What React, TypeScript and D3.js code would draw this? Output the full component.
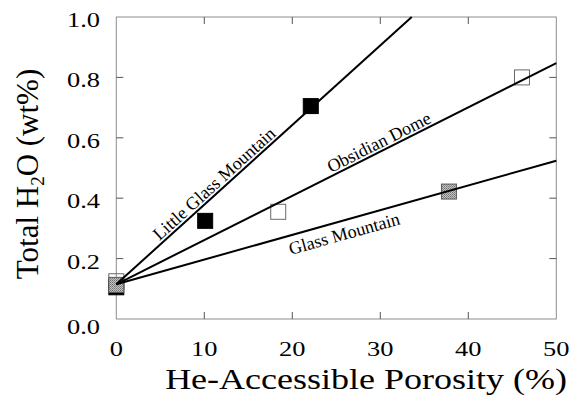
import * as d3 from "d3";

// He-accessible porosity (%) vs total H2O (wt%)
const lgmPorosity = [0, 10.1, 22.1];
const lgmWater = [0.105, 0.325, 0.705];
const odPorosity = [0, 18.4, 46.1];
const odWater = [0.125, 0.355, 0.8];
const gmPorosity = [0, 37.8];
const gmWater = [0.113, 0.422];

// fitted lines: [x0, y0, x1, y1]
const lgmFit = [0, 0.115, 33.57, 1.0];
const odFit = [0, 0.115, 50, 0.847];
const gmFit = [0, 0.115, 50, 0.524];

const xTicks = [0, 10, 20, 30, 40, 50];
const yTicks = [0, 0.2, 0.4, 0.6, 0.8, 1.0];

const W = 579, H = 404;
const margin = { top: 17, right: 22.7, bottom: 85, left: 116.3 };
const FONT = "'Liberation Serif', 'Times New Roman', serif";
const SQ = 15;

export default function App() {
  const x = d3.scaleLinear().domain([0, 50]).range([margin.left, W - margin.right]);
  const y = d3.scaleLinear().domain([0, 1]).range([H - margin.bottom, margin.top]);
  const x0 = x(0), x1 = x(50), y0 = y(0), y1 = y(1);

  const zip = (xs: number[], ys: number[]) => xs.map((v, i) => [v, ys[i]]);

  const fits = [
    { fit: lgmFit, label: "Little Glass Mountain", at: 11.8, off: 3 },
    { fit: odFit, label: "Obsidian Dome", at: 30.3, off: 3 },
    { fit: gmFit, label: "Glass Mountain", at: 25.5, off: -19 },
  ];

  const square = (p: number[], fill: string, stroke: string, key: string) => (
    <rect key={key} x={x(p[0]) - SQ / 2} y={y(p[1]) - SQ / 2} width={SQ} height={SQ}
      fill={fill} stroke={stroke} strokeWidth={1} />
  );

  return (
    <svg width={W} height={H} style={{ position: "absolute", left: 0, top: 0, background: "#fff" }}>
      <defs>
        <pattern id="halftone" width="2" height="2" patternUnits="userSpaceOnUse">
          <rect width="2" height="2" fill="#c4c4c4" />
          <rect width="1" height="1" fill="#707070" />
          <rect x="1" y="1" width="1" height="1" fill="#8a8a8a" />
        </pattern>
      </defs>
      <rect x={0} y={0} width={W} height={H} fill="#fff" />

      {/* frame */}
      <rect x={x0} y={y1} width={x1 - x0} height={y0 - y1} fill="none" stroke="#8c8c8c" strokeWidth={1} />

      {/* ticks, mirrored inward */}
      {xTicks.slice(1, -1).map((t) => (
        <g key={"xt" + t} stroke="#555" strokeWidth={1}>
          <line x1={x(t)} x2={x(t)} y1={y0} y2={y0 - 7} />
          <line x1={x(t)} x2={x(t)} y1={y1} y2={y1 + 7} />
        </g>
      ))}
      {yTicks.slice(1, -1).map((t) => (
        <g key={"yt" + t} stroke="#555" strokeWidth={1}>
          <line x1={x0} x2={x0 + 7} y1={y(t)} y2={y(t)} />
          <line x1={x1} x2={x1 - 7} y1={y(t)} y2={y(t)} />
        </g>
      ))}

      {/* tick labels */}
      {xTicks.map((t) => (
        <text key={"xl" + t} transform={`translate(${x(t)},356) scale(1.2,1)`} textAnchor="middle"
          fontFamily={FONT} fontSize={22} fill="#000">{t}</text>
      ))}
      {yTicks.map((t) => (
        <text key={"yl" + t} transform={`translate(100,${y(t) + (t === 0 ? 15 : 10)}) scale(1.2,1)`} textAnchor="end"
          fontFamily={FONT} fontSize={22} fill="#000">{t.toFixed(1)}</text>
      ))}

      {/* axis titles */}
      <text transform="translate(366,389) scale(1.2,1)" textAnchor="middle" fontFamily={FONT} fontSize={30} fill="#000">
        He-Accessible Porosity (%)
      </text>
      <text transform="translate(38,174) rotate(-90)" textAnchor="middle" fontFamily={FONT} fontSize={31} fill="#000">
        Total H<tspan fontSize={19} dy={6}>2</tspan><tspan dy={-6}>O (wt%)</tspan>
      </text>

      {/* data squares */}
      {zip(odPorosity, odWater).map((p, i) => square(p, "none", "#6a6a6a", "od" + i))}
      {zip(lgmPorosity, lgmWater).map((p, i) => square(p, "#000", "#000", "lgm" + i))}
      {zip(gmPorosity, gmWater).map((p, i) => square(p, "url(#halftone)", "#5a5a5a", "gm" + i))}

      {/* fit lines and labels */}
      {fits.map((f) => {
        const [a, b, c, d] = f.fit;
        const ang = (Math.atan2(y(d) - y(b), x(c) - x(a)) * 180) / Math.PI;
        const rad = (ang * Math.PI) / 180;
        const ly = b + ((d - b) / (c - a)) * (f.at - a);
        const px = x(f.at) + Math.sin(rad) * f.off;
        const py = y(ly) - Math.cos(rad) * f.off;
        return (
          <g key={f.label}>
            <line x1={x(a)} y1={y(b)} x2={x(c)} y2={y(d)} stroke="#000" strokeWidth={2} />
            <text transform={`translate(${px},${py}) rotate(${ang})`} textAnchor="middle"
              fontFamily={FONT} fontSize={18} fill="#000">{f.label}</text>
          </g>
        );
      })}
    </svg>
  );
}
